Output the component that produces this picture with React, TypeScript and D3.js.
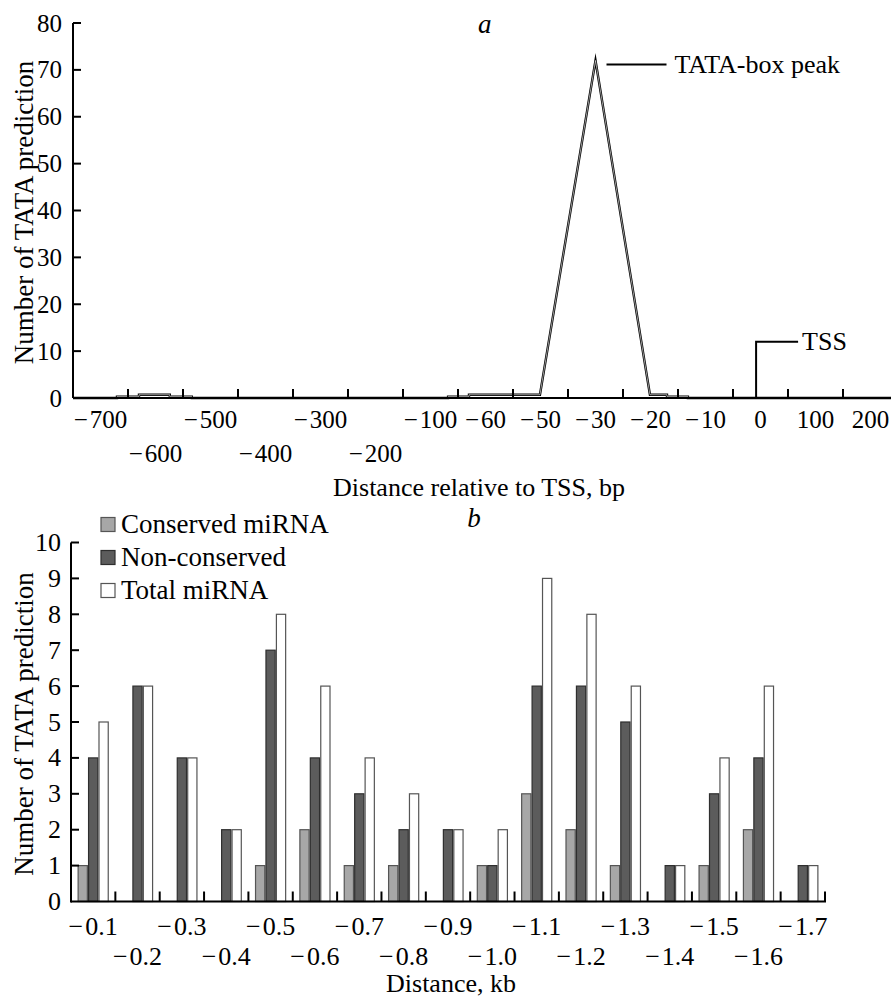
import React from "react";
import * as d3 from "d3";

// ---------- Panel a data ----------
const topCategories = ["−700", "−600", "−500", "−400", "−300", "−200", "−100", "−60", "−50", "−30", "−20", "−10", "0", "100", "200"];
const topYTicks = [0, 10, 20, 30, 40, 50, 60, 70, 80];
// line positions in category units (0 = left edge of first category)
const lineX = [0, 0.8, 0.8, 1.2, 1.2, 1.76, 1.76, 2.16, 2.16, 6.82, 6.82, 7.2, 7.2, 8.49, 9.5, 10.49, 10.8, 10.8, 11.18, 11.18, 15];
const lineV = [0, 0, 0.3, 0.3, 0.7, 0.7, 0.3, 0.3, 0, 0, 0.3, 0.3, 0.7, 0.7, 72, 0.7, 0.7, 0.3, 0.3, 0, 0];
const peakValue = 72;
const tssPosition = 12.42;

// ---------- Panel b data ----------
const botCategories = ["−0.1", "−0.2", "−0.3", "−0.4", "−0.5", "−0.6", "−0.7", "−0.8", "−0.9", "−1.0", "−1.1", "−1.2", "−1.3", "−1.4", "−1.5", "−1.6", "−1.7"];
const seriesNames = ["Conserved miRNA", "Non-conserved", "Total miRNA"];
const conserved = [1, 0, 0, 0, 1, 2, 1, 1, 0, 1, 3, 2, 1, 0, 1, 2, 0];
const nonConserved = [4, 6, 4, 2, 7, 4, 3, 2, 2, 1, 6, 6, 5, 1, 3, 4, 1];
const totalMiRNA = [5, 6, 4, 2, 8, 6, 4, 3, 2, 2, 9, 8, 6, 1, 4, 6, 1];
const botYTicks = [0, 1, 2, 3, 4, 5, 6, 7, 8, 9, 10];

const seriesFill = ["#a7a7a7", "#5c5c5c", "#ffffff"];
const seriesStroke = ["#555555", "#2e2e2e", "#555555"];

const FONT = "'Liberation Serif', 'Times New Roman', Times, serif";

export default function App() {
  // ----- top scales -----
  const tx = d3.scaleLinear().domain([0, 15]).range([73, 898]);
  const ty = d3.scaleLinear().domain([0, 80]).range([398, 23]);
  const linePts = lineX.map((x, i) => [x, lineV[i]] as [number, number]);
  const lineGen = d3.line<[number, number]>().x(d => tx(d[0])).y(d => ty(d[1]));
  const linePath = lineGen(linePts) || "";
  const peakIdx = lineV.indexOf(peakValue);
  const peakX = tx(lineX[peakIdx]);
  const peakY = ty(peakValue);
  const tssX = tx(tssPosition);

  // ----- bottom scales -----
  const bx = d3.scaleBand<string>().domain(botCategories).range([71, 825]).paddingInner(0).paddingOuter(0);
  const bw = bx.bandwidth();
  const gw = bw * 0.706;
  const bx1 = d3.scaleBand<string>().domain(seriesNames).range([(bw - gw) / 2, (bw + gw) / 2]);
  const by = d3.scaleLinear().domain([0, 10]).range([901.5, 542.5]);
  const seriesData = [conserved, nonConserved, totalMiRNA];

  const label = (c: string) => {
    if (c.startsWith("−")) {
      return (<><tspan>{"−"}</tspan><tspan dx={2}>{c.slice(1)}</tspan></>);
    }
    return c;
  };

  return (
    <svg width={891} height={999} style={{ position: "absolute", left: 0, top: 0, background: "#fff" }} fontFamily={FONT}>
      <rect x={0} y={0} width={891} height={999} fill="#fff" />
      {/* ================= Panel a ================= */}
      <text x={478} y={33} fontSize={27} fontStyle="italic">a</text>
      {/* line (double style) */}
      <path d={linePath} fill="none" stroke="#000" strokeWidth={2.4} strokeLinejoin="miter" strokeMiterlimit={20} />
      <path d={linePath} fill="none" stroke="#fff" strokeWidth={0.6} strokeLinejoin="miter" strokeMiterlimit={20} />
      {/* axes */}
      <line x1={73} y1={ty(0)} x2={891} y2={ty(0)} stroke="#000" strokeWidth={2} />
      <line x1={73} y1={ty(0)} x2={73} y2={ty(80)} stroke="#000" strokeWidth={2} />
      {topYTicks.map(t => (
        <g key={"ty" + t}>
          {t > 0 && <line x1={73} x2={81} y1={ty(t)} y2={ty(t)} stroke="#000" strokeWidth={2} />}
          <text x={62} y={ty(t) + 8.5} fontSize={25} textAnchor="end">{t}</text>
        </g>
      ))}
      {topCategories.map((c, i) => (
        <g key={"tx" + i}>
          {i > 0 && <line x1={tx(i)} x2={tx(i)} y1={ty(0)} y2={ty(0) - 9} stroke="#000" strokeWidth={2} />}
          <text x={tx(i + 0.5)} y={i < 6 && i % 2 === 1 ? 462 : 428} fontSize={25} textAnchor="middle">{label(c)}</text>
        </g>
      ))}
      <text x={479} y={496} fontSize={26} textAnchor="middle">Distance relative to TSS, bp</text>
      <text transform={`translate(33,${(ty(0) + ty(80)) / 2 + 2}) rotate(-90)`} fontSize={27} textAnchor="middle">Number of TATA prediction</text>
      {/* annotations */}
      <line x1={peakX + 11} x2={peakX + 71} y1={peakY + 4} y2={peakY + 4} stroke="#000" strokeWidth={2} />
      <text x={peakX + 79} y={peakY + 12} fontSize={26}>TATA-box peak</text>
      <path d={`M${tssX},${ty(0)} V${ty(12)} H${tssX + 42}`} fill="none" stroke="#000" strokeWidth={2} />
      <text x={tssX + 46} y={ty(12) + 8} fontSize={26}>TSS</text>

      {/* ================= Panel b ================= */}
      <text x={474} y={527} fontSize={27} fontStyle="italic" textAnchor="middle">b</text>
      {seriesNames.map((s, k) => (
        <g key={"lg" + k}>
          <rect x={101} y={517.5 + k * 33} width={14} height={14} fill={seriesFill[k]} stroke={seriesStroke[k]} strokeWidth={1.2} />
          <text x={121} y={533 + k * 33} fontSize={27}>{s}</text>
        </g>
      ))}
      {botCategories.map((c, i) => (
        <g key={"grp" + i} transform={`translate(${bx(c)},0)`}>
          {seriesNames.map((s, k) => {
            const v = seriesData[k][i];
            if (v <= 0) return null;
            return (
              <rect key={s} x={(bx1(s) as number) + 0.6} y={by(v)} width={bx1.bandwidth() - 1.2} height={by(0) - by(v)}
                fill={seriesFill[k]} stroke={seriesStroke[k]} strokeWidth={1.2} />
            );
          })}
        </g>
      ))}
      <line x1={71} y1={by(0)} x2={826} y2={by(0)} stroke="#000" strokeWidth={2} />
      <line x1={71} y1={by(0) + 1} x2={71} y2={by(10)} stroke="#000" strokeWidth={2} />
      {botYTicks.map(t => (
        <g key={"by" + t}>
          {t > 0 && <line x1={71} x2={79} y1={by(t)} y2={by(t)} stroke="#000" strokeWidth={2} />}
          <text x={61} y={by(t) + 8.5} fontSize={26} textAnchor="end">{t}</text>
        </g>
      ))}
      {botCategories.map((c, i) => (
        <g key={"bx" + i}>
          <line x1={(bx(c) as number) + bw} x2={(bx(c) as number) + bw} y1={by(0)} y2={by(0) - 10} stroke="#000" strokeWidth={2} />
          <text x={(bx(c) as number) + bw / 2} y={i % 2 === 0 ? 935 : 965} fontSize={26} textAnchor="middle">{label(c)}</text>
        </g>
      ))}
      <text x={451} y={992} fontSize={26} textAnchor="middle">Distance, kb</text>
      <text transform={`translate(33,${(by(0) + by(10)) / 2 + 2}) rotate(-90)`} fontSize={27} textAnchor="middle">Number of TATA prediction</text>
    </svg>
  );
}
